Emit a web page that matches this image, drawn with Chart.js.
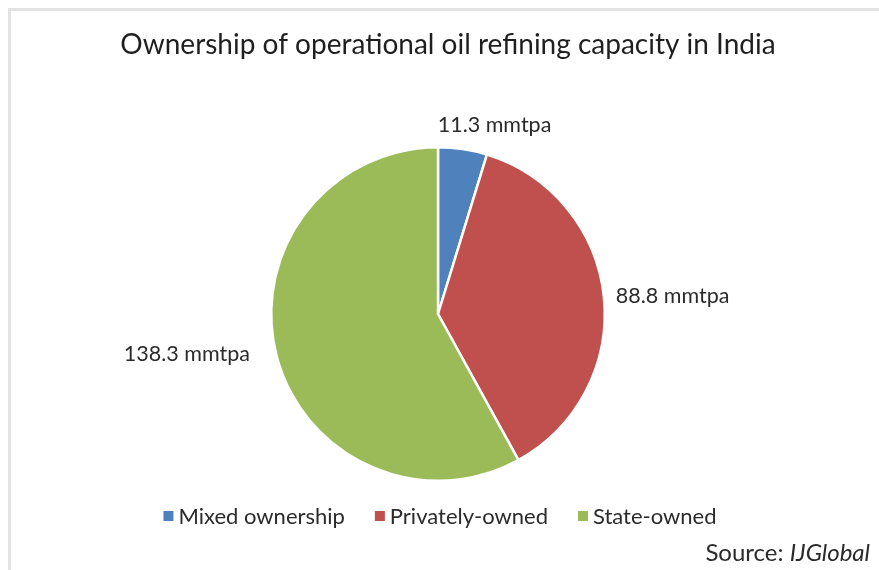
<!DOCTYPE html>
<html>
<head>
<meta charset="utf-8">
<script src="https://cdn.jsdelivr.net/npm/chart.js@4/dist/chart.umd.min.js"></script>
<style>
  html, body { margin: 0; padding: 0; background: #ffffff; }
  #wrap { width: 879px; height: 570px; position: relative; }
</style>
</head>
<body>
<div id="wrap"><canvas id="c" width="879" height="570"></canvas></div>
<script>
const chartTitle = "Ownership of operational oil refining capacity in India";
const categories = ["Mixed ownership", "Privately-owned", "State-owned"];
const capacityValues = [11.3, 88.8, 138.3];
const valueUnit = "mmtpa";
const sourcePrefix = "Source: ";
const sourceName = "IJGlobal";

const sliceColors = ["#4F81BD", "#C0504D", "#9BBB59"];
const FONT = "Lato, 'Open Sans', 'DejaVu Sans', sans-serif";

const decorPlugin = {
  id: 'decor',
  beforeDraw(chart) {
    const ctx = chart.ctx;
    ctx.save();
    ctx.fillStyle = '#ffffff';
    ctx.fillRect(0, 0, chart.width, chart.height);
    ctx.strokeStyle = '#e3e3e3';
    ctx.lineWidth = 3;
    ctx.beginPath();
    ctx.moveTo(9.5, chart.height + 5);
    ctx.lineTo(9.5, 9.5);
    ctx.lineTo(chart.width + 5, 9.5);
    ctx.stroke();
    ctx.restore();
  },
  afterDraw(chart, args, opts) {
    const ctx = chart.ctx;
    ctx.save();
    ctx.fillStyle = '#1f1f1f';
    ctx.font = opts.titleSize + 'px ' + FONT;
    ctx.textAlign = 'center';
    ctx.textBaseline = 'middle';
    ctx.fillText(chartTitle, opts.titleX, opts.titleY);

    const meta = chart.getDatasetMeta(0);
    ctx.font = opts.labelSize + 'px ' + FONT;
    ctx.fillStyle = '#2b2b2b';
    meta.data.forEach((arc, i) => {
      const p = arc.getProps(['x', 'y', 'startAngle', 'endAngle', 'outerRadius'], true);
      const mid = (p.startAngle + p.endAngle) / 2;
      const r = p.outerRadius + opts.labelGap;
      let x = p.x + Math.cos(mid) * r;
      let y = p.y + Math.sin(mid) * r;
      const c = Math.cos(mid);
      let align = 'center';
      if (c > 0.5) align = 'left'; else if (c < -0.5) align = 'right';
      const n = opts.nudges[i] || [0, 0];
      x += n[0]; y += n[1];
      ctx.textAlign = align;
      ctx.textBaseline = 'middle';
      const v = chart.data.datasets[0].data[i];
      ctx.fillText(v.toFixed(1) + ' ' + valueUnit, x, y);
    });

    ctx.font = opts.legendSize + 'px ' + FONT;
    ctx.textAlign = 'left';
    ctx.textBaseline = 'middle';
    const labels = chart.data.labels;
    const colors = chart.data.datasets[0].backgroundColor;
    const widths = labels.map(l => ctx.measureText(l).width);
    const box = opts.legendBox, gapBox = opts.legendBoxGap, gapItem = opts.legendItemGap;
    const total = widths.reduce((a, b) => a + b, 0) + labels.length * (box + gapBox) + (labels.length - 1) * gapItem;
    let lx = opts.legendCenterX - total / 2;
    labels.forEach((l, i) => {
      ctx.fillStyle = colors[i];
      ctx.fillRect(lx, opts.legendY - box / 2, box, box);
      ctx.fillStyle = '#2b2b2b';
      ctx.fillText(l, lx + box + gapBox, opts.legendY + 1);
      lx += box + gapBox + widths[i] + gapItem;
    });

    ctx.textAlign = 'left';
    ctx.font = 'italic ' + opts.sourceSize + 'px ' + FONT;
    const wName = ctx.measureText(sourceName).width;
    ctx.font = opts.sourceSize + 'px ' + FONT;
    const wPre = ctx.measureText(sourcePrefix).width;
    const sx = opts.sourceRight - wName - wPre;
    ctx.fillStyle = '#2b2b2b';
    ctx.fillText(sourcePrefix, sx, opts.sourceY);
    ctx.font = 'italic ' + opts.sourceSize + 'px ' + FONT;
    ctx.fillText(sourceName, sx + wPre, opts.sourceY);
    ctx.restore();
  }
};

new Chart(document.getElementById('c'), {
  type: 'pie',
  data: {
    labels: categories,
    datasets: [{
      data: capacityValues,
      backgroundColor: sliceColors,
      borderColor: '#ffffff',
      borderWidth: 2.5
    }]
  },
  options: {
    responsive: false,
    animation: false,
    layout: { padding: { top: 146, bottom: 88, left: 0, right: 3 } },
    plugins: {
      legend: { display: false },
      title: { display: false },
      tooltip: { enabled: false },
      decor: {
        titleSize: 28, titleX: 448, titleY: 45,
        labelSize: 21.5, labelGap: 12,
        nudges: [[30, -12], [0, 0], [-15, -4]],
        legendSize: 22, legendY: 516, legendCenterX: 440,
        legendBox: 10, legendBoxGap: 5, legendItemGap: 30,
        sourceSize: 24, sourceRight: 870, sourceY: 553
      }
    }
  },
  plugins: [decorPlugin]
});
</script>
</body>
</html>
